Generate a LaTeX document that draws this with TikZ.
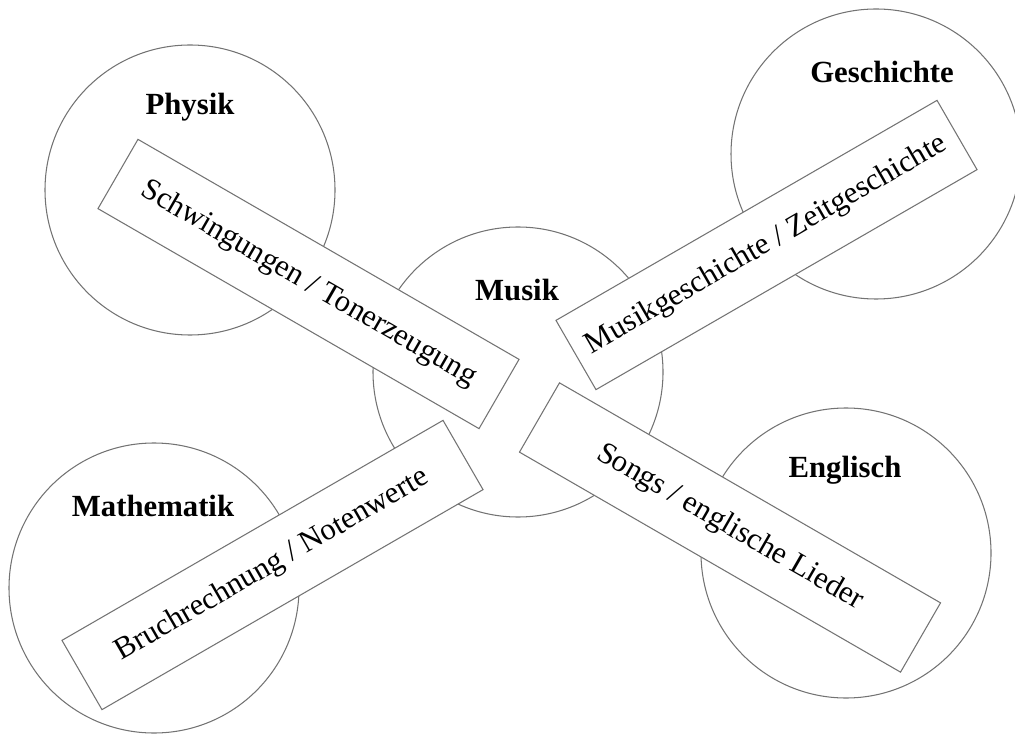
\documentclass[tikz,border=0pt]{standalone}
\usepackage{fontspec}
\setmainfont{Liberation Serif}
\usepackage{xcolor}
\usepackage{tikz}

\begin{document}
\begin{tikzpicture}[
    subject/.style={draw=black!55, line width=0.6pt, circle, minimum size=5.8cm, inner sep=0pt},
    topic/.style={draw=black!55, line width=0.6pt, rectangle, fill=white, minimum width=8.8cm, minimum height=1.6cm, inner sep=0pt, font=\fontsize{17.5}{20}\selectfont},
    title/.style={font=\fontsize{17.5}{20}\selectfont\bfseries}
  ]
    \useasboundingbox (0,0) rectangle (20.3,14.66);

    % Circles
    \node[subject] (physik) at (3.8,10.86) {};
    \node[subject] (geschichte) at (17.52,11.58) {};
    \node[subject] (mathe) at (3.08,2.9) {};
    \node[subject] (englisch) at (16.92,3.6) {};
    \node[subject] (musik) at (10.36,7.22) {};

    % Subject names
    \node[title] (physiklbl) at (3.8,12.52) {Physik};
    \node[title] (geschichtelbl) at (17.64,13.22) {Geschichte};
    \node[title] (mathelbl) at (3.06,4.54) {Mathematik};
    \node[title] (englischlbl) at (16.9,5.26) {Englisch};
    \node[title] (musiklbl) at (10.34,8.86) {Musik};

    % Topic bars
    \node[topic, rotate=-30] (schwing) at (6.17,8.98) {Schwingungen / Tonerzeugung};
    \node[topic, rotate=30] (musikgesch) at (15.33,9.76) {Musikgeschichte / Zeitgeschichte};
    \node[topic, rotate=30] (bruch) at (5.45,3.36) {Bruchrechnung / Notenwerte};
    \node[topic, rotate=-30] (songs) at (14.6,4.11) {Songs / englische Lieder};
  \end{tikzpicture}
\end{document}
